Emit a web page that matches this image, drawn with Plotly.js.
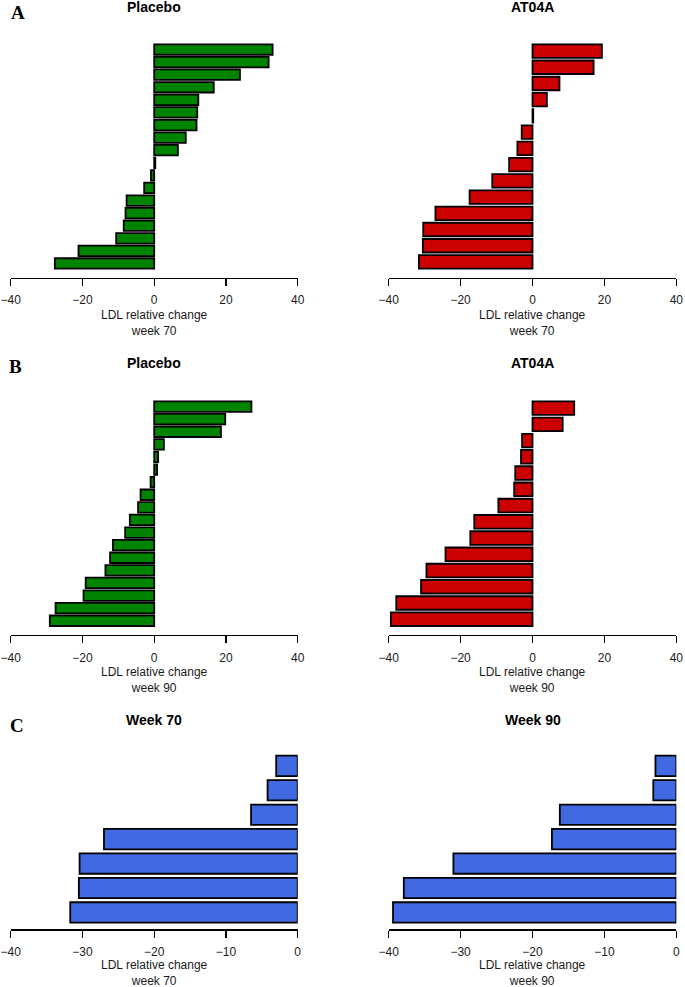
<!DOCTYPE html>
<html>
<head>
<meta charset="utf-8">
<script src="https://cdn.plot.ly/plotly-3.0.1.min.js"></script>
<style>html,body{margin:0;padding:0;background:#fff}#chart{width:685px;height:987px}</style>
</head>
<body>
<div id="chart"></div>
<script>
// ---- data (values listed top bar first) ----
const placeboWeek70 = [33.0, 31.9, 23.9, 16.6, 12.3, 12.0, 11.8, 8.8, 6.6, 0.3, -0.9, -2.8, -7.7, -8.0, -8.5, -10.6, -21.1, -27.7];
const at04aWeek70   = [19.3, 17.0, 7.5, 4.0, 0.2, -3.0, -4.2, -6.5, -11.2, -17.5, -27.0, -30.4, -30.5, -31.6];
const placeboWeek90 = [27.1, 19.8, 18.6, 2.7, 1.1, 0.8, -1.0, -3.8, -4.5, -6.8, -8.1, -11.5, -12.3, -13.6, -19.1, -19.7, -27.5, -29.1];
const at04aWeek90   = [11.6, 8.4, -2.9, -3.2, -4.8, -5.1, -9.5, -16.2, -17.3, -24.2, -29.5, -31.0, -37.9, -39.4];
const respWeek70    = [-3.0, -4.2, -6.5, -27.0, -30.4, -30.5, -31.7];
const respWeek90    = [-2.9, -3.2, -16.2, -17.3, -31.0, -37.9, -39.4];

const ticksAB = [-40, -20, 0, 20, 40];
const ticksC  = [-40, -30, -20, -10, 0];
const panelTitles = ['Placebo', 'AT04A', 'Placebo', 'AT04A', 'Week 70', 'Week 90'];
const axisTitles = ['LDL relative change<br>week 70', 'LDL relative change<br>week 70',
                    'LDL relative change<br>week 90', 'LDL relative change<br>week 90',
                    'LDL relative change<br>week 70', 'LDL relative change<br>week 90'];
const panelLetters = ['A', 'B', 'C'];

const GREEN = '#008300', RED = '#CC0000', BLUE = '#4169E1';
const W = 685, H = 987;
const FONT = 'Liberation Sans, Arial, Helvetica, sans-serif';

const panels = [
  {vals: placeboWeek70, color: GREEN, ticks: ticksAB, xr: [-40, 40], xpx: [10.7, 297.7], ypx: [35.3, 277.7]},
  {vals: at04aWeek70,   color: RED,   ticks: ticksAB, xr: [-40, 40], xpx: [388.7, 676.3], ypx: [35.3, 277.7]},
  {vals: placeboWeek90, color: GREEN, ticks: ticksAB, xr: [-40, 40], xpx: [10.7, 297.7], ypx: [392.3, 635]},
  {vals: at04aWeek90,   color: RED,   ticks: ticksAB, xr: [-40, 40], xpx: [388.7, 676.3], ypx: [392.3, 635]},
  {vals: respWeek70,    color: BLUE,  ticks: ticksC,  xr: [-40, 0],  xpx: [10.7, 297.7], ypx: [749, 929.3]},
  {vals: respWeek90,    color: BLUE,  ticks: ticksC,  xr: [-40, 0],  xpx: [388.7, 676.3], ypx: [749, 929.3]}
];
const titleY = [7, 7, 362.5, 362.5, 719.5, 719.5];
const axisTitleGap = [45, 45, 45, 45, 43.8, 43.8];

const barFrac = 1 / 1.2;
function yRange(n) {
  const L = n - 1 + barFrac;
  const p = 0.04 * L;
  return [n - 1 + barFrac / 2 + p, -barFrac / 2 - p];
}

const data = [];
const layout = {
  width: W, height: H,
  margin: {l: 0, r: 0, t: 0, b: 0},
  paper_bgcolor: '#fff', plot_bgcolor: 'rgba(0,0,0,0)',
  showlegend: false,
  bargap: 1 - barFrac,
  font: {family: FONT, color: '#111'},
  annotations: []
};

panels.forEach((p, i) => {
  const k = i === 0 ? '' : String(i + 1);
  data.push({
    type: 'bar', orientation: 'h',
    x: p.vals, y: p.vals.map((_, j) => j),
    xaxis: 'x' + k, yaxis: 'y' + k,
    marker: {color: p.color, line: {color: '#000', width: 1.8}},
    hoverinfo: 'x'
  });
  layout['xaxis' + k] = {
    domain: [p.xpx[0] / W, p.xpx[1] / W],
    anchor: 'y' + k,
    range: p.xr, fixedrange: true,
    showgrid: false, zeroline: false,
    showline: true, linecolor: '#000', linewidth: 1.3,
    ticks: 'outside', ticklen: 7, tickwidth: 1.3, tickcolor: '#000',
    tickvals: p.ticks, ticktext: p.ticks.map(v => v < 0 ? '\u2212' + Math.abs(v) : String(v)),
    tickfont: {size: 12, family: FONT, color: '#1a1a1a'},
    ticklabelstandoff: 4
  };
  layout['yaxis' + k] = {
    domain: [1 - p.ypx[1] / H, 1 - p.ypx[0] / H],
    anchor: 'x' + k,
    range: yRange(p.vals.length), fixedrange: true,
    visible: false
  };
  // panel title
  layout.annotations.push({
    text: '<b>' + panelTitles[i] + '</b>',
    xref: 'x' + k + ' domain', x: 0.5, xanchor: 'center',
    yref: 'paper', y: 1 - titleY[i] / H, yanchor: 'middle',
    showarrow: false, borderpad: 0, font: {size: 14, family: FONT, color: '#000'}
  });
  // x-axis title (two lines), placed below the tick labels
  const axisBottom = p.ypx[1];
  layout.annotations.push({
    text: axisTitles[i],
    xref: 'x' + k + ' domain', x: 0.5, xanchor: 'center',
    yref: 'paper', y: 1 - (axisBottom + axisTitleGap[i]) / H, yanchor: 'middle',
    showarrow: false, borderpad: 0, font: {size: 12, family: FONT, color: '#1a1a1a'}
  });
});

[[17.5, 12.5], [15, 367], [16.7, 725]].forEach((pos, i) => {
  layout.annotations.push({
    text: '<b>' + panelLetters[i] + '</b>',
    xref: 'paper', x: pos[0] / W, xanchor: 'center',
    yref: 'paper', y: 1 - pos[1] / H, yanchor: 'middle',
    showarrow: false, borderpad: 0, font: {size: 19, family: 'Liberation Serif, Times New Roman, serif', color: '#000'}
  });
});

Plotly.newPlot('chart', data, layout, {displayModeBar: false, staticPlot: true});
</script>
</body>
</html>
